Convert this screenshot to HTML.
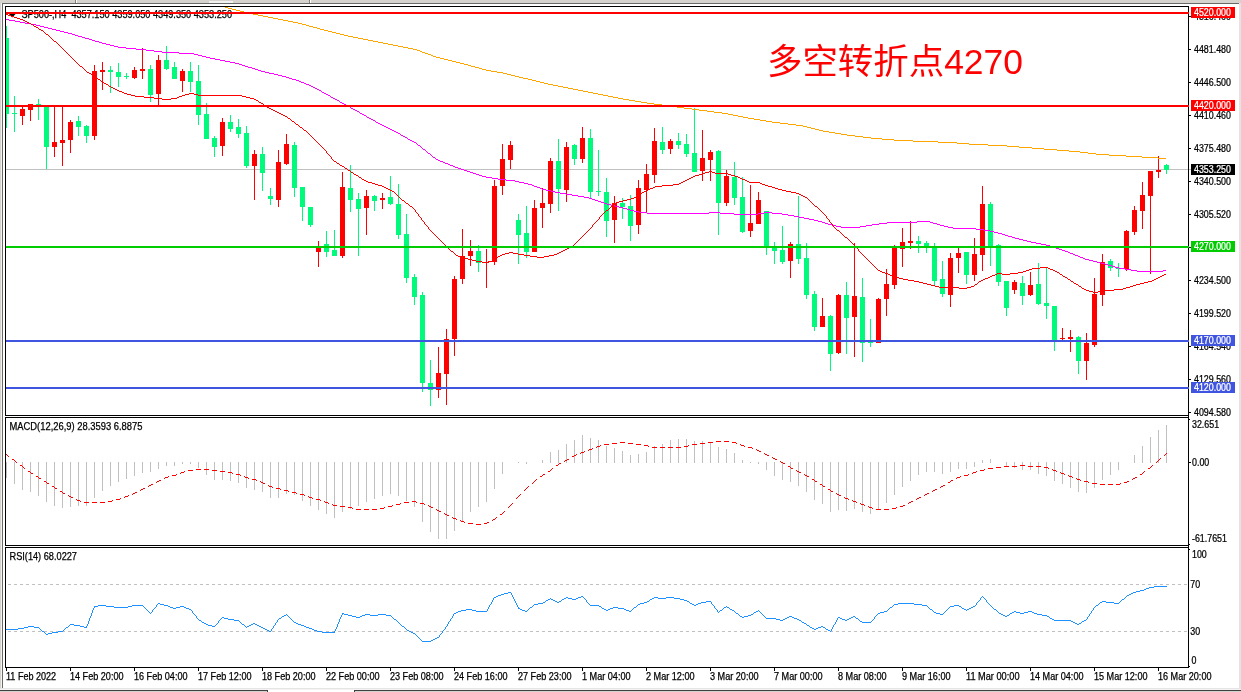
<!DOCTYPE html>
<html><head><meta charset="utf-8"><title>SP500-,H4</title>
<style>
html,body{margin:0;padding:0;background:#fff;}
body{width:1241px;height:692px;overflow:hidden;font-family:"Liberation Sans",sans-serif;}
svg{display:block;will-change:transform;}
text{font-family:"Liberation Sans",sans-serif;font-size:10px;fill:#000;stroke-width:0.25px;}
.c{shape-rendering:crispEdges;}
</style></head><body>
<svg width="1241" height="692" viewBox="0 0 1241 692">
<rect x="0" y="0" width="1241" height="692" fill="#ffffff"/>
<g class="c">
<rect x="0" y="0" width="1241" height="3" fill="#d6d3ce"/>
<rect x="209" y="1" width="24" height="2" fill="#f2f2f2"/>
<rect x="75" y="0" width="1" height="3" fill="#808080"/>
<rect x="76" y="0" width="1" height="3" fill="#ffffff"/>
<rect x="309" y="0" width="1" height="3" fill="#808080"/>
<rect x="310" y="0" width="1" height="3" fill="#ffffff"/>
<rect x="0" y="0" width="1" height="692" fill="#d6d3ce"/>
<rect x="1" y="3" width="1" height="686" fill="#f4f4f4"/>
<rect x="2" y="3" width="1237" height="1" fill="#696969"/>
<rect x="2" y="3" width="1" height="686" fill="#696969"/>
<rect x="1239" y="3" width="2" height="689" fill="#e4e4e4"/>
<rect x="0" y="688" width="1241" height="1" fill="#e4e4e4"/>
<rect x="0" y="689" width="1241" height="1" fill="#f4f4f4"/>
<rect x="0" y="690" width="268" height="1" fill="#404040"/>
<rect x="267" y="690" width="1" height="2" fill="#404040"/>
<rect x="354" y="690" width="887" height="1" fill="#404040"/>
<rect x="354" y="690" width="1" height="2" fill="#404040"/>
<rect x="0" y="691" width="267" height="1" fill="#d6d3ce"/>
<rect x="355" y="691" width="886" height="1" fill="#d6d3ce"/>
</g>
<defs><clipPath id="cm"><rect x="6" y="7" width="1185" height="408"/></clipPath><clipPath id="cc"><rect x="6" y="7" width="1182" height="408"/></clipPath></defs>
<rect x="1189" y="16" width="2" height="1" fill="#000" class="c"/>
<text transform="translate(1194,20) scale(0.887,1)" style="fill:#000;stroke:#000">4516.460</text>
<rect x="1189" y="49" width="2" height="1" fill="#000" class="c"/>
<text transform="translate(1194,53) scale(0.887,1)" style="fill:#000;stroke:#000">4481.480</text>
<rect x="1189" y="82" width="2" height="1" fill="#000" class="c"/>
<text transform="translate(1194,86) scale(0.887,1)" style="fill:#000;stroke:#000">4446.500</text>
<rect x="1189" y="115" width="2" height="1" fill="#000" class="c"/>
<text transform="translate(1194,119) scale(0.887,1)" style="fill:#000;stroke:#000">4410.460</text>
<rect x="1189" y="148" width="2" height="1" fill="#000" class="c"/>
<text transform="translate(1194,152) scale(0.887,1)" style="fill:#000;stroke:#000">4375.480</text>
<rect x="1189" y="181" width="2" height="1" fill="#000" class="c"/>
<text transform="translate(1194,185) scale(0.887,1)" style="fill:#000;stroke:#000">4340.500</text>
<rect x="1189" y="214" width="2" height="1" fill="#000" class="c"/>
<text transform="translate(1194,218) scale(0.887,1)" style="fill:#000;stroke:#000">4305.520</text>
<rect x="1189" y="247" width="2" height="1" fill="#000" class="c"/>
<text transform="translate(1194,251) scale(0.887,1)" style="fill:#000;stroke:#000">4269.480</text>
<rect x="1189" y="280" width="2" height="1" fill="#000" class="c"/>
<text transform="translate(1194,284) scale(0.887,1)" style="fill:#000;stroke:#000">4234.500</text>
<rect x="1189" y="313" width="2" height="1" fill="#000" class="c"/>
<text transform="translate(1194,317) scale(0.887,1)" style="fill:#000;stroke:#000">4199.520</text>
<rect x="1189" y="346" width="2" height="1" fill="#000" class="c"/>
<text transform="translate(1194,350) scale(0.887,1)" style="fill:#000;stroke:#000">4164.540</text>
<rect x="1189" y="379" width="2" height="1" fill="#000" class="c"/>
<text transform="translate(1194,383) scale(0.887,1)" style="fill:#000;stroke:#000">4129.560</text>
<rect x="1189" y="412" width="2" height="1" fill="#000" class="c"/>
<text transform="translate(1194,416) scale(0.887,1)" style="fill:#000;stroke:#000">4094.580</text>
<g clip-path="url(#cm)">
<rect x="6" y="169" width="1185" height="1" fill="#c0c0c0" class="c"/>
</g>
<path d="M8 13 L16.5 13 L12.25 17.5 Z" fill="#000"/>
<text x="21.5" y="18" textLength="210.5" lengthAdjust="spacingAndGlyphs" style="stroke:#000">SP500-,H4&#160; 4357.150 4359.050 4349.350 4353.250</text>
<g clip-path="url(#cm)">
<g class="c">
<rect x="6" y="26" width="1" height="102" fill="#00fa7c"/>
<rect x="4" y="38" width="5" height="76" fill="#00fa7c"/>
<rect x="14" y="96" width="1" height="36" fill="#00fa7c"/>
<rect x="12" y="113" width="5" height="1" fill="#00fa7c"/>
<rect x="22" y="107" width="1" height="18" fill="#ff0000"/>
<rect x="20" y="109" width="5" height="7" fill="#ff0000"/>
<rect x="30" y="104" width="1" height="17" fill="#ff0000"/>
<rect x="28" y="104" width="5" height="6" fill="#ff0000"/>
<rect x="38" y="99" width="1" height="21" fill="#00fa7c"/>
<rect x="36" y="104" width="5" height="1" fill="#00fa7c"/>
<rect x="46" y="105" width="1" height="64" fill="#00fa7c"/>
<rect x="44" y="105" width="5" height="42" fill="#00fa7c"/>
<rect x="54" y="105" width="1" height="52" fill="#ff0000"/>
<rect x="52" y="142" width="5" height="5" fill="#ff0000"/>
<rect x="62" y="105" width="1" height="61" fill="#ff0000"/>
<rect x="60" y="140" width="5" height="3" fill="#ff0000"/>
<rect x="70" y="120" width="1" height="33" fill="#ff0000"/>
<rect x="68" y="122" width="5" height="18" fill="#ff0000"/>
<rect x="78" y="116" width="1" height="20" fill="#00fa7c"/>
<rect x="76" y="121" width="5" height="6" fill="#00fa7c"/>
<rect x="86" y="125" width="1" height="18" fill="#00fa7c"/>
<rect x="84" y="126" width="5" height="10" fill="#00fa7c"/>
<rect x="94" y="65" width="1" height="75" fill="#ff0000"/>
<rect x="92" y="71" width="5" height="65" fill="#ff0000"/>
<rect x="102" y="62" width="1" height="28" fill="#ff0000"/>
<rect x="100" y="70" width="5" height="2" fill="#ff0000"/>
<rect x="110" y="66" width="1" height="27" fill="#00fa7c"/>
<rect x="108" y="70" width="5" height="2" fill="#00fa7c"/>
<rect x="118" y="63" width="1" height="24" fill="#00fa7c"/>
<rect x="116" y="72" width="5" height="5" fill="#00fa7c"/>
<rect x="126" y="73" width="1" height="6" fill="#00fa7c"/>
<rect x="124" y="76" width="5" height="1" fill="#00fa7c"/>
<rect x="134" y="67" width="1" height="12" fill="#ff0000"/>
<rect x="132" y="70" width="5" height="8" fill="#ff0000"/>
<rect x="142" y="48" width="1" height="31" fill="#ff0000"/>
<rect x="140" y="69" width="5" height="2" fill="#ff0000"/>
<rect x="150" y="65" width="1" height="37" fill="#00fa7c"/>
<rect x="148" y="69" width="5" height="26" fill="#00fa7c"/>
<rect x="158" y="55" width="1" height="50" fill="#ff0000"/>
<rect x="156" y="60" width="5" height="34" fill="#ff0000"/>
<rect x="166" y="46" width="1" height="24" fill="#00fa7c"/>
<rect x="164" y="60" width="5" height="9" fill="#00fa7c"/>
<rect x="174" y="62" width="1" height="17" fill="#00fa7c"/>
<rect x="172" y="67" width="5" height="12" fill="#00fa7c"/>
<rect x="182" y="69" width="1" height="23" fill="#ff0000"/>
<rect x="180" y="71" width="5" height="10" fill="#ff0000"/>
<rect x="190" y="62" width="1" height="30" fill="#00fa7c"/>
<rect x="188" y="71" width="5" height="11" fill="#00fa7c"/>
<rect x="198" y="65" width="1" height="60" fill="#00fa7c"/>
<rect x="196" y="81" width="5" height="34" fill="#00fa7c"/>
<rect x="206" y="103" width="1" height="36" fill="#00fa7c"/>
<rect x="204" y="114" width="5" height="25" fill="#00fa7c"/>
<rect x="214" y="136" width="1" height="21" fill="#00fa7c"/>
<rect x="212" y="138" width="5" height="9" fill="#00fa7c"/>
<rect x="222" y="118" width="1" height="38" fill="#ff0000"/>
<rect x="220" y="122" width="5" height="24" fill="#ff0000"/>
<rect x="230" y="115" width="1" height="17" fill="#00fa7c"/>
<rect x="228" y="122" width="5" height="7" fill="#00fa7c"/>
<rect x="238" y="119" width="1" height="19" fill="#00fa7c"/>
<rect x="236" y="127" width="5" height="7" fill="#00fa7c"/>
<rect x="246" y="126" width="1" height="42" fill="#00fa7c"/>
<rect x="244" y="133" width="5" height="33" fill="#00fa7c"/>
<rect x="254" y="150" width="1" height="50" fill="#ff0000"/>
<rect x="252" y="154" width="5" height="12" fill="#ff0000"/>
<rect x="262" y="147" width="1" height="44" fill="#00fa7c"/>
<rect x="260" y="154" width="5" height="19" fill="#00fa7c"/>
<rect x="270" y="188" width="1" height="17" fill="#00fa7c"/>
<rect x="268" y="196" width="5" height="3" fill="#00fa7c"/>
<rect x="278" y="150" width="1" height="57" fill="#ff0000"/>
<rect x="276" y="162" width="5" height="38" fill="#ff0000"/>
<rect x="286" y="134" width="1" height="31" fill="#ff0000"/>
<rect x="284" y="144" width="5" height="20" fill="#ff0000"/>
<rect x="294" y="142" width="1" height="55" fill="#00fa7c"/>
<rect x="292" y="145" width="5" height="43" fill="#00fa7c"/>
<rect x="302" y="187" width="1" height="34" fill="#00fa7c"/>
<rect x="300" y="187" width="5" height="20" fill="#00fa7c"/>
<rect x="310" y="207" width="1" height="20" fill="#00fa7c"/>
<rect x="308" y="207" width="5" height="18" fill="#00fa7c"/>
<rect x="318" y="241" width="1" height="26" fill="#ff0000"/>
<rect x="316" y="246" width="5" height="6" fill="#ff0000"/>
<rect x="326" y="231" width="1" height="26" fill="#00fa7c"/>
<rect x="324" y="244" width="5" height="8" fill="#00fa7c"/>
<rect x="334" y="230" width="1" height="26" fill="#00fa7c"/>
<rect x="332" y="250" width="5" height="6" fill="#00fa7c"/>
<rect x="342" y="172" width="1" height="86" fill="#ff0000"/>
<rect x="340" y="187" width="5" height="69" fill="#ff0000"/>
<rect x="350" y="165" width="1" height="47" fill="#00fa7c"/>
<rect x="348" y="188" width="5" height="12" fill="#00fa7c"/>
<rect x="358" y="193" width="1" height="63" fill="#00fa7c"/>
<rect x="356" y="199" width="5" height="10" fill="#00fa7c"/>
<rect x="366" y="190" width="1" height="45" fill="#ff0000"/>
<rect x="364" y="196" width="5" height="12" fill="#ff0000"/>
<rect x="374" y="195" width="1" height="16" fill="#00fa7c"/>
<rect x="372" y="196" width="5" height="5" fill="#00fa7c"/>
<rect x="382" y="193" width="1" height="16" fill="#ff0000"/>
<rect x="380" y="198" width="5" height="2" fill="#ff0000"/>
<rect x="390" y="176" width="1" height="29" fill="#00fa7c"/>
<rect x="388" y="197" width="5" height="7" fill="#00fa7c"/>
<rect x="398" y="184" width="1" height="55" fill="#00fa7c"/>
<rect x="396" y="204" width="5" height="31" fill="#00fa7c"/>
<rect x="406" y="214" width="1" height="69" fill="#00fa7c"/>
<rect x="404" y="234" width="5" height="44" fill="#00fa7c"/>
<rect x="414" y="274" width="1" height="31" fill="#00fa7c"/>
<rect x="412" y="277" width="5" height="20" fill="#00fa7c"/>
<rect x="422" y="292" width="1" height="100" fill="#00fa7c"/>
<rect x="420" y="295" width="5" height="88" fill="#00fa7c"/>
<rect x="430" y="360" width="1" height="46" fill="#00fa7c"/>
<rect x="428" y="383" width="5" height="7" fill="#00fa7c"/>
<rect x="438" y="347" width="1" height="51" fill="#ff0000"/>
<rect x="436" y="373" width="5" height="17" fill="#ff0000"/>
<rect x="446" y="329" width="1" height="76" fill="#ff0000"/>
<rect x="444" y="339" width="5" height="35" fill="#ff0000"/>
<rect x="454" y="276" width="1" height="80" fill="#ff0000"/>
<rect x="452" y="279" width="5" height="60" fill="#ff0000"/>
<rect x="462" y="229" width="1" height="55" fill="#ff0000"/>
<rect x="460" y="256" width="5" height="23" fill="#ff0000"/>
<rect x="470" y="240" width="1" height="26" fill="#ff0000"/>
<rect x="468" y="251" width="5" height="5" fill="#ff0000"/>
<rect x="478" y="245" width="1" height="27" fill="#00fa7c"/>
<rect x="476" y="251" width="5" height="12" fill="#00fa7c"/>
<rect x="486" y="249" width="1" height="39" fill="#ff0000"/>
<rect x="484" y="262" width="5" height="1" fill="#ff0000"/>
<rect x="494" y="180" width="1" height="85" fill="#ff0000"/>
<rect x="492" y="186" width="5" height="76" fill="#ff0000"/>
<rect x="502" y="144" width="1" height="51" fill="#ff0000"/>
<rect x="500" y="159" width="5" height="27" fill="#ff0000"/>
<rect x="510" y="141" width="1" height="28" fill="#ff0000"/>
<rect x="508" y="145" width="5" height="15" fill="#ff0000"/>
<rect x="518" y="214" width="1" height="50" fill="#00fa7c"/>
<rect x="516" y="220" width="5" height="15" fill="#00fa7c"/>
<rect x="526" y="206" width="1" height="52" fill="#00fa7c"/>
<rect x="524" y="233" width="5" height="19" fill="#00fa7c"/>
<rect x="534" y="200" width="1" height="52" fill="#ff0000"/>
<rect x="532" y="208" width="5" height="44" fill="#ff0000"/>
<rect x="542" y="188" width="1" height="40" fill="#ff0000"/>
<rect x="540" y="203" width="5" height="5" fill="#ff0000"/>
<rect x="550" y="158" width="1" height="55" fill="#ff0000"/>
<rect x="548" y="161" width="5" height="43" fill="#ff0000"/>
<rect x="558" y="139" width="1" height="72" fill="#00fa7c"/>
<rect x="556" y="161" width="5" height="28" fill="#00fa7c"/>
<rect x="566" y="142" width="1" height="60" fill="#ff0000"/>
<rect x="564" y="147" width="5" height="43" fill="#ff0000"/>
<rect x="574" y="144" width="1" height="21" fill="#00fa7c"/>
<rect x="572" y="145" width="5" height="14" fill="#00fa7c"/>
<rect x="582" y="127" width="1" height="36" fill="#ff0000"/>
<rect x="580" y="138" width="5" height="21" fill="#ff0000"/>
<rect x="590" y="129" width="1" height="70" fill="#00fa7c"/>
<rect x="588" y="138" width="5" height="54" fill="#00fa7c"/>
<rect x="598" y="150" width="1" height="46" fill="#00fa7c"/>
<rect x="596" y="191" width="5" height="1" fill="#00fa7c"/>
<rect x="606" y="178" width="1" height="59" fill="#00fa7c"/>
<rect x="604" y="192" width="5" height="29" fill="#00fa7c"/>
<rect x="614" y="196" width="1" height="47" fill="#ff0000"/>
<rect x="612" y="203" width="5" height="17" fill="#ff0000"/>
<rect x="622" y="198" width="1" height="21" fill="#00fa7c"/>
<rect x="620" y="203" width="5" height="4" fill="#00fa7c"/>
<rect x="630" y="195" width="1" height="46" fill="#00fa7c"/>
<rect x="628" y="206" width="5" height="20" fill="#00fa7c"/>
<rect x="638" y="180" width="1" height="54" fill="#ff0000"/>
<rect x="636" y="188" width="5" height="37" fill="#ff0000"/>
<rect x="646" y="164" width="1" height="49" fill="#ff0000"/>
<rect x="644" y="174" width="5" height="16" fill="#ff0000"/>
<rect x="654" y="128" width="1" height="55" fill="#ff0000"/>
<rect x="652" y="141" width="5" height="34" fill="#ff0000"/>
<rect x="662" y="127" width="1" height="27" fill="#00fa7c"/>
<rect x="660" y="142" width="5" height="8" fill="#00fa7c"/>
<rect x="670" y="139" width="1" height="15" fill="#ff0000"/>
<rect x="668" y="141" width="5" height="8" fill="#ff0000"/>
<rect x="678" y="133" width="1" height="16" fill="#00fa7c"/>
<rect x="676" y="141" width="5" height="4" fill="#00fa7c"/>
<rect x="686" y="134" width="1" height="23" fill="#00fa7c"/>
<rect x="684" y="144" width="5" height="10" fill="#00fa7c"/>
<rect x="694" y="108" width="1" height="64" fill="#00fa7c"/>
<rect x="692" y="153" width="5" height="19" fill="#00fa7c"/>
<rect x="702" y="130" width="1" height="51" fill="#ff0000"/>
<rect x="700" y="158" width="5" height="13" fill="#ff0000"/>
<rect x="710" y="150" width="1" height="31" fill="#ff0000"/>
<rect x="708" y="152" width="5" height="8" fill="#ff0000"/>
<rect x="718" y="150" width="1" height="85" fill="#00fa7c"/>
<rect x="716" y="151" width="5" height="52" fill="#00fa7c"/>
<rect x="726" y="170" width="1" height="36" fill="#ff0000"/>
<rect x="724" y="176" width="5" height="27" fill="#ff0000"/>
<rect x="734" y="162" width="1" height="43" fill="#00fa7c"/>
<rect x="732" y="177" width="5" height="21" fill="#00fa7c"/>
<rect x="742" y="177" width="1" height="56" fill="#00fa7c"/>
<rect x="740" y="197" width="5" height="35" fill="#00fa7c"/>
<rect x="750" y="185" width="1" height="52" fill="#ff0000"/>
<rect x="748" y="223" width="5" height="8" fill="#ff0000"/>
<rect x="758" y="192" width="1" height="32" fill="#ff0000"/>
<rect x="756" y="200" width="5" height="24" fill="#ff0000"/>
<rect x="766" y="211" width="1" height="44" fill="#00fa7c"/>
<rect x="764" y="211" width="5" height="37" fill="#00fa7c"/>
<rect x="774" y="242" width="1" height="22" fill="#00fa7c"/>
<rect x="772" y="248" width="5" height="3" fill="#00fa7c"/>
<rect x="782" y="226" width="1" height="38" fill="#00fa7c"/>
<rect x="780" y="250" width="5" height="12" fill="#00fa7c"/>
<rect x="790" y="242" width="1" height="36" fill="#ff0000"/>
<rect x="788" y="244" width="5" height="17" fill="#ff0000"/>
<rect x="798" y="196" width="1" height="68" fill="#00fa7c"/>
<rect x="796" y="244" width="5" height="15" fill="#00fa7c"/>
<rect x="806" y="243" width="1" height="56" fill="#00fa7c"/>
<rect x="804" y="258" width="5" height="37" fill="#00fa7c"/>
<rect x="814" y="291" width="1" height="40" fill="#00fa7c"/>
<rect x="812" y="294" width="5" height="33" fill="#00fa7c"/>
<rect x="822" y="298" width="1" height="29" fill="#ff0000"/>
<rect x="820" y="316" width="5" height="11" fill="#ff0000"/>
<rect x="830" y="315" width="1" height="56" fill="#00fa7c"/>
<rect x="828" y="316" width="5" height="38" fill="#00fa7c"/>
<rect x="838" y="294" width="1" height="60" fill="#ff0000"/>
<rect x="836" y="295" width="5" height="58" fill="#ff0000"/>
<rect x="846" y="282" width="1" height="72" fill="#00fa7c"/>
<rect x="844" y="295" width="5" height="23" fill="#00fa7c"/>
<rect x="854" y="243" width="1" height="114" fill="#ff0000"/>
<rect x="852" y="296" width="5" height="21" fill="#ff0000"/>
<rect x="862" y="278" width="1" height="84" fill="#00fa7c"/>
<rect x="860" y="297" width="5" height="46" fill="#00fa7c"/>
<rect x="870" y="319" width="1" height="28" fill="#00fa7c"/>
<rect x="868" y="342" width="5" height="1" fill="#00fa7c"/>
<rect x="878" y="298" width="1" height="45" fill="#ff0000"/>
<rect x="876" y="299" width="5" height="44" fill="#ff0000"/>
<rect x="886" y="269" width="1" height="47" fill="#ff0000"/>
<rect x="884" y="284" width="5" height="15" fill="#ff0000"/>
<rect x="894" y="245" width="1" height="44" fill="#ff0000"/>
<rect x="892" y="247" width="5" height="38" fill="#ff0000"/>
<rect x="902" y="228" width="1" height="39" fill="#ff0000"/>
<rect x="900" y="242" width="5" height="7" fill="#ff0000"/>
<rect x="910" y="221" width="1" height="28" fill="#ff0000"/>
<rect x="908" y="241" width="5" height="2" fill="#ff0000"/>
<rect x="918" y="236" width="1" height="17" fill="#00fa7c"/>
<rect x="916" y="241" width="5" height="3" fill="#00fa7c"/>
<rect x="926" y="241" width="1" height="12" fill="#00fa7c"/>
<rect x="924" y="243" width="5" height="4" fill="#00fa7c"/>
<rect x="934" y="243" width="1" height="42" fill="#00fa7c"/>
<rect x="932" y="247" width="5" height="34" fill="#00fa7c"/>
<rect x="942" y="261" width="1" height="36" fill="#00fa7c"/>
<rect x="940" y="279" width="5" height="15" fill="#00fa7c"/>
<rect x="950" y="253" width="1" height="54" fill="#ff0000"/>
<rect x="948" y="258" width="5" height="37" fill="#ff0000"/>
<rect x="958" y="248" width="1" height="25" fill="#ff0000"/>
<rect x="956" y="253" width="5" height="5" fill="#ff0000"/>
<rect x="966" y="252" width="1" height="32" fill="#00fa7c"/>
<rect x="964" y="252" width="5" height="23" fill="#00fa7c"/>
<rect x="974" y="238" width="1" height="43" fill="#ff0000"/>
<rect x="972" y="254" width="5" height="21" fill="#ff0000"/>
<rect x="982" y="186" width="1" height="85" fill="#ff0000"/>
<rect x="980" y="204" width="5" height="51" fill="#ff0000"/>
<rect x="990" y="202" width="1" height="64" fill="#00fa7c"/>
<rect x="988" y="204" width="5" height="43" fill="#00fa7c"/>
<rect x="998" y="244" width="1" height="42" fill="#00fa7c"/>
<rect x="996" y="245" width="5" height="37" fill="#00fa7c"/>
<rect x="1006" y="281" width="1" height="35" fill="#00fa7c"/>
<rect x="1004" y="281" width="5" height="27" fill="#00fa7c"/>
<rect x="1014" y="280" width="1" height="14" fill="#ff0000"/>
<rect x="1012" y="282" width="5" height="8" fill="#ff0000"/>
<rect x="1022" y="276" width="1" height="29" fill="#00fa7c"/>
<rect x="1020" y="283" width="5" height="13" fill="#00fa7c"/>
<rect x="1030" y="272" width="1" height="24" fill="#ff0000"/>
<rect x="1028" y="285" width="5" height="10" fill="#ff0000"/>
<rect x="1038" y="263" width="1" height="42" fill="#00fa7c"/>
<rect x="1036" y="284" width="5" height="20" fill="#00fa7c"/>
<rect x="1046" y="268" width="1" height="51" fill="#00fa7c"/>
<rect x="1044" y="303" width="5" height="3" fill="#00fa7c"/>
<rect x="1054" y="306" width="1" height="45" fill="#00fa7c"/>
<rect x="1052" y="306" width="5" height="34" fill="#00fa7c"/>
<rect x="1062" y="328" width="1" height="12" fill="#ff0000"/>
<rect x="1060" y="338" width="5" height="1" fill="#ff0000"/>
<rect x="1070" y="330" width="1" height="22" fill="#ff0000"/>
<rect x="1068" y="337" width="5" height="2" fill="#ff0000"/>
<rect x="1078" y="336" width="1" height="38" fill="#00fa7c"/>
<rect x="1076" y="337" width="5" height="24" fill="#00fa7c"/>
<rect x="1086" y="333" width="1" height="47" fill="#ff0000"/>
<rect x="1084" y="343" width="5" height="18" fill="#ff0000"/>
<rect x="1094" y="278" width="1" height="69" fill="#ff0000"/>
<rect x="1092" y="294" width="5" height="51" fill="#ff0000"/>
<rect x="1102" y="254" width="1" height="52" fill="#ff0000"/>
<rect x="1100" y="262" width="5" height="33" fill="#ff0000"/>
<rect x="1110" y="259" width="1" height="12" fill="#00fa7c"/>
<rect x="1108" y="261" width="5" height="7" fill="#00fa7c"/>
<rect x="1118" y="263" width="1" height="14" fill="#00fa7c"/>
<rect x="1116" y="268" width="5" height="1" fill="#00fa7c"/>
<rect x="1126" y="230" width="1" height="41" fill="#ff0000"/>
<rect x="1124" y="231" width="5" height="38" fill="#ff0000"/>
<rect x="1134" y="206" width="1" height="29" fill="#ff0000"/>
<rect x="1132" y="210" width="5" height="22" fill="#ff0000"/>
<rect x="1142" y="182" width="1" height="47" fill="#ff0000"/>
<rect x="1140" y="195" width="5" height="16" fill="#ff0000"/>
<rect x="1150" y="171" width="1" height="103" fill="#ff0000"/>
<rect x="1148" y="171" width="5" height="25" fill="#ff0000"/>
<rect x="1158" y="156" width="1" height="22" fill="#ff0000"/>
<rect x="1156" y="170" width="5" height="2" fill="#ff0000"/>
<rect x="1166" y="164" width="1" height="10" fill="#00fa7c"/>
<rect x="1164" y="165" width="5" height="5" fill="#00fa7c"/>
</g>
<path class="c" fill="none" stroke="#ffa500" stroke-width="1" d="M225 7.5h3M228 8.5h4M232 9.5h4M236 10.5h4M240 11.5h4M244 12.5h4M248 13.5h5M253 14.5h5M258 15.5h5M263 16.5h5M268 17.5h5M273 18.5h5M278 19.5h5M283 20.5h5M288 21.5h5M293 22.5h5M298 23.5h4M302 24.5h4M306 25.5h3M309 26.5h4M313 27.5h4M317 28.5h3M320 29.5h4M324 30.5h4M328 31.5h4M332 32.5h4M336 33.5h4M340 34.5h4M344 35.5h4M348 36.5h5M353 37.5h5M358 38.5h5M363 39.5h5M368 40.5h5M373 41.5h5M378 42.5h5M383 43.5h5M388 44.5h5M393 45.5h5M398 46.5h5M403 47.5h5M408 48.5h5M413 49.5h4M417 50.5h3M420 51.5h2M422 52.5h3M425 53.5h3M428 54.5h3M431 55.5h2M433 56.5h3M436 57.5h4M440 58.5h4M444 59.5h4M448 60.5h4M452 61.5h4M456 62.5h4M460 63.5h4M464 64.5h4M468 65.5h3M471 66.5h4M475 67.5h4M479 68.5h3M482 69.5h4M486 70.5h5M491 71.5h6M497 72.5h6M503 73.5h4M507 74.5h4M511 75.5h4M515 76.5h4M519 77.5h4M523 78.5h5M528 79.5h4M532 80.5h4M536 81.5h4M540 82.5h4M544 83.5h4M548 84.5h5M553 85.5h5M558 86.5h5M563 87.5h5M568 88.5h5M573 89.5h5M578 90.5h5M583 91.5h5M588 92.5h5M593 93.5h5M598 94.5h5M603 95.5h5M608 96.5h5M613 97.5h5M618 98.5h5M623 99.5h6M629 100.5h6M635 101.5h6M641 102.5h6M647 103.5h7M654 104.5h8M662 105.5h7M669 106.5h8M677 107.5h7M684 108.5h8M692 109.5h7M699 110.5h8M707 111.5h7M714 112.5h8M722 113.5h6M728 114.5h5M733 115.5h5M738 116.5h5M743 117.5h5M748 118.5h6M754 119.5h6M760 120.5h6M766 121.5h6M772 122.5h8M780 123.5h8M788 124.5h8M796 125.5h7M803 126.5h4M807 127.5h4M811 128.5h4M815 129.5h4M819 130.5h4M823 131.5h6M829 132.5h6M835 133.5h6M841 134.5h6M847 135.5h8M855 136.5h8M863 137.5h8M871 138.5h11M882 139.5h12M894 140.5h19M913 141.5h25M938 142.5h19M957 143.5h12M969 144.5h19M988 145.5h19M1007 146.5h12M1019 147.5h13M1032 148.5h12M1044 149.5h13M1057 150.5h12M1069 151.5h11M1080 152.5h8M1088 153.5h8M1096 154.5h13M1109 155.5h17M1126 156.5h16M1142 157.5h16M1158 158.5h8"/>
<path class="c" fill="none" stroke="#ff00ff" stroke-width="1" d="M6 19.5h3M9 20.5h6M15 21.5h5M20 22.5h5M25 23.5h6M31 24.5h5M36 25.5h4M40 26.5h4M44 27.5h4M48 28.5h4M52 29.5h4M56 30.5h4M60 31.5h4M64 32.5h4M68 33.5h4M72 34.5h3M75 35.5h3M78 36.5h4M82 37.5h3M85 38.5h4M89 39.5h3M92 40.5h3M95 41.5h4M99 42.5h3M102 43.5h4M106 44.5h4M110 45.5h4M114 46.5h4M118 47.5h8M126 48.5h10M136 49.5h10M146 50.5h8M154 51.5h8M162 52.5h17M179 53.5h15M194 54.5h4M198 55.5h4M202 56.5h4M206 57.5h4M210 58.5h5M215 59.5h5M220 60.5h5M225 61.5h5M230 62.5h5M235 63.5h4M239 64.5h3M242 65.5h3M245 66.5h3M248 67.5h4M252 68.5h3M255 69.5h3M258 70.5h3M261 71.5h4M265 72.5h4M269 73.5h5M274 74.5h4M278 75.5h4M282 76.5h4M286 77.5h3M289 78.5h3M292 79.5h4M296 80.5h3M299 81.5h2M301 82.5h3M304 83.5h2M306 84.5h3M309 85.5h2M311 86.5h2M313 87.5h2M315 88.5h2M317 89.5h2M319 90.5h2M322 92.5h2M324 93.5h2M326 94.5h2M328 95.5h2M331 97.5h2M333 98.5h2M335 99.5h2M337 100.5h2M340 102.5h2M342 103.5h2M344 104.5h2M346 105.5h2M348 106.5h2M351 108.5h2M353 109.5h2M355 110.5h2M357 111.5h2M360 113.5h2M362 114.5h2M364 115.5h2M367 117.5h2M369 118.5h2M371 119.5h2M373 120.5h2M376 122.5h2M378 123.5h2M380 124.5h2M382 125.5h2M384 126.5h2M386 127.5h2M388 128.5h2M390 129.5h2M392 130.5h2M394 131.5h2M396 132.5h2M398 133.5h2M401 135.5h2M403 136.5h2M405 137.5h2M408 139.5h2M410 140.5h2M412 141.5h2M414 142.5h2M418 145.5h2M423 149.5h2M428 153.5h2M433 157.5h2M436 159.5h2M438 160.5h2M440 161.5h3M443 162.5h2M445 163.5h3M448 164.5h2M450 165.5h3M453 166.5h2M455 167.5h3M458 168.5h3M461 169.5h3M464 170.5h3M467 171.5h3M470 172.5h3M473 173.5h3M476 174.5h3M479 175.5h3M482 176.5h4M486 177.5h6M492 178.5h6M498 179.5h8M506 180.5h9M515 181.5h4M519 182.5h5M524 183.5h4M528 184.5h4M532 185.5h2M534 186.5h3M537 187.5h3M540 188.5h2M542 189.5h4M546 190.5h5M551 191.5h4M555 192.5h5M560 193.5h6M566 194.5h6M572 195.5h6M578 196.5h6M584 197.5h5M589 198.5h3M592 199.5h3M595 200.5h3M598 201.5h3M601 202.5h3M604 203.5h3M607 204.5h4M611 205.5h4M615 206.5h4M619 207.5h4M623 208.5h4M627 209.5h3M630 210.5h4M634 211.5h5M639 212.5h8M709 212.5h11M764 212.5h8M647 213.5h62M720 213.5h14M758 213.5h6M772 213.5h10M734 214.5h24M782 214.5h6M788 215.5h6M794 216.5h5M799 217.5h5M804 218.5h5M809 219.5h5M814 220.5h4M818 221.5h4M917 221.5h13M822 222.5h3M887 222.5h30M930 222.5h3M825 223.5h3M879 223.5h8M933 223.5h4M828 224.5h4M872 224.5h7M937 224.5h3M832 225.5h4M866 225.5h6M940 225.5h4M836 226.5h5M860 226.5h6M944 226.5h4M841 227.5h19M948 227.5h5M953 228.5h23M976 229.5h8M984 230.5h6M990 231.5h4M994 232.5h4M998 233.5h4M1002 234.5h3M1005 235.5h3M1008 236.5h4M1012 237.5h3M1015 238.5h4M1019 239.5h4M1023 240.5h4M1027 241.5h4M1031 242.5h5M1036 243.5h5M1041 244.5h5M1046 245.5h4M1050 246.5h3M1053 247.5h3M1056 248.5h3M1059 249.5h3M1062 250.5h3M1065 251.5h3M1068 252.5h2M1070 253.5h3M1073 254.5h2M1075 255.5h3M1078 256.5h2M1080 257.5h3M1083 258.5h2M1085 259.5h4M1089 260.5h4M1093 261.5h4M1097 262.5h4M1101 263.5h4M1105 264.5h3M1108 265.5h4M1112 266.5h3M1115 267.5h4M1119 268.5h6M1125 269.5h6M1131 270.5h6M1163 270.5h3M1137 271.5h26M321.5 91v1M330.5 96v1M339.5 101v1M350.5 107v1M359.5 112v1M366.5 116v1M375.5 121v1M400.5 134v1M407.5 138v1M416.5 143v1M417.5 144v1M420.5 146v1M421.5 147v1M422.5 148v1M425.5 150v1M426.5 151v1M427.5 152v1M430.5 154v1M431.5 155v1M432.5 156v1M435.5 158v1"/>
<path class="c" fill="none" stroke="#ff0000" stroke-width="1" d="M6 14.5h2M8 15.5h3M11 16.5h3M14 17.5h3M17 18.5h3M20 19.5h3M23 20.5h2M25 21.5h2M27 22.5h2M29 23.5h2M31 24.5h2M34 26.5h2M36 27.5h2M39 29.5h2M41 30.5h2M46 34.5h2M54 41.5h2M80 66.5h2M87 72.5h2M89 73.5h2M91 74.5h2M94 76.5h2M98 79.5h2M101 81.5h2M104 83.5h2M106 84.5h2M109 86.5h2M111 87.5h2M113 88.5h2M115 89.5h2M117 90.5h2M119 91.5h3M122 92.5h2M124 93.5h3M189 93.5h5M127 94.5h4M185 94.5h4M194 94.5h4M131 95.5h4M182 95.5h3M198 95.5h44M135 96.5h9M179 96.5h3M242 96.5h4M144 97.5h10M177 97.5h2M246 97.5h4M154 98.5h8M171 98.5h6M250 98.5h4M162 99.5h9M254 99.5h2M256 100.5h2M259 102.5h2M261 103.5h2M264 105.5h2M267 107.5h2M269 108.5h2M271 109.5h2M273 110.5h2M275 111.5h2M277 112.5h2M279 113.5h2M281 114.5h2M283 115.5h2M285 116.5h2M288 118.5h2M292 121.5h2M296 124.5h2M300 127.5h2M304 130.5h2M334 161.5h2M337 163.5h2M340 165.5h2M342 166.5h2M345 168.5h2M348 170.5h2M709 171.5h3M351 172.5h2M705 172.5h4M712 172.5h3M702 173.5h3M715 173.5h13M354 174.5h2M699 174.5h3M728 174.5h3M356 175.5h2M695 175.5h4M731 175.5h4M693 176.5h2M735 176.5h3M359 177.5h2M691 177.5h2M738 177.5h2M689 178.5h2M740 178.5h2M362 179.5h2M687 179.5h2M742 179.5h3M364 180.5h2M685 180.5h2M745 180.5h2M366 181.5h2M683 181.5h2M747 181.5h2M368 182.5h4M681 182.5h2M749 182.5h11M372 183.5h3M679 183.5h2M760 183.5h2M375 184.5h3M673 184.5h6M762 184.5h3M378 185.5h4M662 185.5h11M765 185.5h3M382 186.5h2M655 186.5h7M768 186.5h4M384 187.5h2M653 187.5h2M772 187.5h3M386 188.5h2M650 188.5h3M775 188.5h3M388 189.5h2M648 189.5h2M778 189.5h4M390 190.5h2M646 190.5h2M782 190.5h4M392 191.5h2M644 191.5h2M786 191.5h5M642 192.5h2M791 192.5h5M796 193.5h3M639 194.5h2M799 194.5h2M801 195.5h2M636 196.5h2M803 196.5h2M634 197.5h2M805 197.5h2M631 198.5h3M627 199.5h4M402 200.5h2M623 200.5h4M619 201.5h4M616 202.5h3M406 203.5h2M612 205.5h2M410 206.5h2M815 206.5h2M606 210.5h2M837 230.5h2M845 237.5h2M571 246.5h2M569 247.5h2M567 248.5h2M565 249.5h2M563 250.5h2M451 251.5h2M561 251.5h2M509 252.5h4M559 252.5h2M505 253.5h4M513 253.5h5M557 253.5h2M502 254.5h3M518 254.5h6M554 254.5h3M456 255.5h2M500 255.5h2M524 255.5h6M549 255.5h5M458 256.5h3M498 256.5h2M530 256.5h7M544 256.5h5M461 257.5h4M537 257.5h7M465 258.5h3M468 259.5h4M494 259.5h2M472 260.5h4M492 260.5h2M476 261.5h6M488 261.5h4M482 262.5h6M1040 267.5h8M1032 268.5h8M1048 268.5h2M1029 269.5h3M1050 269.5h3M878 270.5h2M1026 270.5h3M1053 270.5h2M880 271.5h2M1023 271.5h3M1055 271.5h2M882 272.5h3M1018 272.5h5M1057 272.5h2M885 273.5h3M997 273.5h5M1010 273.5h8M888 274.5h2M995 274.5h2M1002 274.5h8M1060 274.5h2M1164 274.5h2M890 275.5h3M992 275.5h3M1162 275.5h2M893 276.5h3M990 276.5h2M1063 276.5h2M1160 276.5h2M896 277.5h3M988 277.5h2M1065 277.5h2M1158 277.5h2M899 278.5h4M985 278.5h3M1156 278.5h2M903 279.5h5M983 279.5h2M1068 279.5h2M1154 279.5h2M908 280.5h6M981 280.5h2M1152 280.5h2M914 281.5h5M979 281.5h2M1071 281.5h2M1148 281.5h4M919 282.5h4M1144 282.5h4M923 283.5h4M1074 283.5h2M1140 283.5h4M927 284.5h4M975 284.5h2M1076 284.5h2M1136 284.5h4M931 285.5h4M1133 285.5h3M935 286.5h4M971 286.5h3M1079 286.5h2M1130 286.5h3M939 287.5h20M967 287.5h4M1126 287.5h4M959 288.5h8M1082 288.5h2M1123 288.5h3M1084 289.5h2M1114 289.5h9M1086 290.5h3M1104 290.5h10M1089 291.5h4M1098 291.5h6M1093 292.5h5M33.5 25v1M38.5 28v1M43.5 31v1M44.5 32v1M45.5 33v1M48.5 35v1M49.5 36v1M50.5 37v1M51.5 38v1M52.5 39v1M53.5 40v1M56.5 42v1M57.5 43v1M58.5 44v1M59.5 45v1M60.5 46v1M61.5 47v1M62.5 48v1M63.5 49v1M64.5 50v1M65.5 51v1M66.5 52v1M67.5 53v1M68.5 54v1M69.5 55v1M70.5 56v1M71.5 57v1M72.5 58v1M73.5 59v1M74.5 60v1M75.5 61v1M76.5 62v1M77.5 63v1M78.5 64v1M79.5 65v1M82.5 67v1M83.5 68v1M84.5 69v1M85.5 70v1M86.5 71v1M93.5 75v1M96.5 77v1M97.5 78v1M100.5 80v1M103.5 82v1M108.5 85v1M258.5 101v1M263.5 104v1M266.5 106v1M287.5 117v1M290.5 119v1M291.5 120v1M294.5 122v1M295.5 123v1M298.5 125v1M299.5 126v1M302.5 128v1M303.5 129v1M306.5 131v1M307.5 132v1M308.5 133v1M309.5 134v1M310.5 135v1M311.5 136v1M312.5 137v1M313.5 138v1M314.5 139v1M315.5 140v1M316.5 141v1M317.5 142v1M318.5 143v1M319.5 144v1M320.5 145v1M321.5 146v1M322.5 147v1M323.5 148v1M324.5 149v1M325.5 150v1M326.5 151v2M327.5 153v1M328.5 154v1M329.5 155v1M330.5 156v1M331.5 157v2M332.5 159v1M333.5 160v1M336.5 162v1M339.5 164v1M344.5 167v1M347.5 169v1M350.5 171v1M353.5 173v1M358.5 176v1M361.5 178v1M394.5 192v1M395.5 193v1M396.5 194v1M397.5 195v1M398.5 196v1M399.5 197v1M400.5 198v1M401.5 199v1M404.5 201v1M405.5 202v1M408.5 204v1M409.5 205v1M412.5 207v1M413.5 208v1M414.5 209v1M415.5 210v2M416.5 212v1M417.5 213v1M418.5 214v2M419.5 216v1M420.5 217v1M421.5 218v2M422.5 220v1M423.5 221v1M424.5 222v2M425.5 224v1M426.5 225v1M427.5 226v1M428.5 227v2M429.5 229v1M430.5 230v1M431.5 231v1M432.5 232v1M433.5 233v1M434.5 234v1M435.5 235v1M436.5 236v1M437.5 237v1M438.5 238v1M439.5 239v1M440.5 240v1M441.5 241v1M442.5 242v1M443.5 243v1M444.5 244v1M445.5 245v1M446.5 246v1M447.5 247v1M448.5 248v1M449.5 249v1M450.5 250v1M453.5 252v1M454.5 253v1M455.5 254v1M496.5 258v1M497.5 257v1M573.5 245v1M574.5 244v1M575.5 243v1M576.5 242v1M577.5 241v1M578.5 240v1M579.5 239v1M580.5 238v1M581.5 237v1M582.5 236v1M583.5 235v1M584.5 234v1M585.5 233v1M586.5 232v1M587.5 231v1M588.5 230v1M589.5 229v1M590.5 228v1M591.5 227v1M592.5 225v2M593.5 224v1M594.5 223v1M595.5 222v1M596.5 221v1M597.5 220v1M598.5 219v1M599.5 217v2M600.5 216v1M601.5 215v1M602.5 214v1M603.5 213v1M604.5 212v1M605.5 211v1M608.5 209v1M609.5 208v1M610.5 207v1M611.5 206v1M614.5 204v1M615.5 203v1M638.5 195v1M641.5 193v1M807.5 198v1M808.5 199v1M809.5 200v1M810.5 201v1M811.5 202v1M812.5 203v1M813.5 204v1M814.5 205v1M817.5 207v1M818.5 208v1M819.5 209v1M820.5 210v1M821.5 211v1M822.5 212v1M823.5 213v1M824.5 214v1M825.5 215v1M826.5 216v2M827.5 218v1M828.5 219v1M829.5 220v2M830.5 222v1M831.5 223v1M832.5 224v2M833.5 226v1M834.5 227v1M835.5 228v1M836.5 229v1M839.5 231v1M840.5 232v1M841.5 233v1M842.5 234v1M843.5 235v1M844.5 236v1M847.5 238v1M848.5 239v1M849.5 240v1M850.5 241v1M851.5 242v1M852.5 243v1M853.5 244v1M854.5 245v1M855.5 246v1M856.5 247v1M857.5 248v1M858.5 249v2M859.5 251v1M860.5 252v1M861.5 253v1M862.5 254v1M863.5 255v1M864.5 256v1M865.5 257v1M866.5 258v1M867.5 259v1M868.5 260v1M869.5 261v1M870.5 262v1M871.5 263v1M872.5 264v1M873.5 265v1M874.5 266v1M875.5 267v1M876.5 268v1M877.5 269v1M974.5 285v1M977.5 283v1M978.5 282v1M1059.5 273v1M1062.5 275v1M1067.5 278v1M1070.5 280v1M1073.5 282v1M1078.5 285v1M1081.5 287v1"/>
<g class="c">
<rect x="6" y="12" width="1182" height="2" fill="#ff0000"/>
<rect x="6" y="105" width="1182" height="2" fill="#ff0000"/>
<rect x="6" y="246" width="1182" height="2" fill="#00cc00"/>
<rect x="6" y="340" width="1182" height="2" fill="#3f55e0"/>
<rect x="6" y="387" width="1182" height="2" fill="#3f55e0"/>
</g>
</g>
<g fill="#ff0000">
<text x="767" y="73.5" textLength="256" lengthAdjust="spacingAndGlyphs" style="font-family:'Liberation Sans','Noto Sans CJK SC',sans-serif;font-size:35px;fill:#ff0000;stroke:none">多空转折点4270</text>
</g>
<g class="c">
<rect x="5" y="6" width="1184" height="1" fill="#000"/>
<rect x="5" y="6" width="1" height="410" fill="#000"/>
<rect x="5" y="415" width="1184" height="1" fill="#000"/>
<rect x="1188" y="6" width="1" height="662" fill="#000"/>
<rect x="5" y="417" width="1184" height="1" fill="#000"/>
<rect x="5" y="417" width="1" height="129" fill="#000"/>
<rect x="5" y="545" width="1184" height="1" fill="#000"/>
<rect x="5" y="547" width="1184" height="1" fill="#000"/>
<rect x="5" y="547" width="1" height="121" fill="#000"/>
<rect x="5" y="667" width="1184" height="1" fill="#000"/>
</g>
<g class="c">
<rect x="1188" y="12" width="1" height="2" fill="#ff0000"/>
<rect x="1188" y="105" width="1" height="2" fill="#ff0000"/>
<rect x="1188" y="246" width="1" height="2" fill="#00cc00"/>
<rect x="1188" y="340" width="1" height="2" fill="#3f55e0"/>
<rect x="1188" y="387" width="1" height="2" fill="#3f55e0"/>
</g>
<rect x="1191" y="7" width="44" height="11" fill="#ff0000" class="c"/>
<text transform="translate(1194,16) scale(0.887,1)" style="fill:#fff;stroke:#fff">4520.000</text>
<rect x="1191" y="100" width="44" height="11" fill="#ff0000" class="c"/>
<text transform="translate(1194,109) scale(0.887,1)" style="fill:#fff;stroke:#fff">4420.000</text>
<rect x="1191" y="164" width="44" height="11" fill="#000" class="c"/>
<text transform="translate(1194,173) scale(0.887,1)" style="fill:#fff;stroke:#fff">4353.250</text>
<rect x="1191" y="241" width="44" height="11" fill="#00cc00" class="c"/>
<text transform="translate(1194,250) scale(0.887,1)" style="fill:#fff;stroke:#fff">4270.000</text>
<rect x="1191" y="335" width="44" height="11" fill="#3f55e0" class="c"/>
<text transform="translate(1194,344) scale(0.887,1)" style="fill:#fff;stroke:#fff">4170.000</text>
<rect x="1191" y="382" width="44" height="11" fill="#3f55e0" class="c"/>
<text transform="translate(1194,391) scale(0.887,1)" style="fill:#fff;stroke:#fff">4120.000</text>
<g class="c">
<rect x="6" y="462" width="1" height="16" fill="#c0c0c0"/>
<rect x="14" y="462" width="1" height="22" fill="#c0c0c0"/>
<rect x="22" y="462" width="1" height="28" fill="#c0c0c0"/>
<rect x="30" y="462" width="1" height="30" fill="#c0c0c0"/>
<rect x="38" y="462" width="1" height="34" fill="#c0c0c0"/>
<rect x="46" y="462" width="1" height="40" fill="#c0c0c0"/>
<rect x="54" y="462" width="1" height="44" fill="#c0c0c0"/>
<rect x="62" y="462" width="1" height="46" fill="#c0c0c0"/>
<rect x="70" y="462" width="1" height="45" fill="#c0c0c0"/>
<rect x="78" y="462" width="1" height="44" fill="#c0c0c0"/>
<rect x="86" y="462" width="1" height="44" fill="#c0c0c0"/>
<rect x="94" y="462" width="1" height="36" fill="#c0c0c0"/>
<rect x="102" y="462" width="1" height="29" fill="#c0c0c0"/>
<rect x="110" y="462" width="1" height="24" fill="#c0c0c0"/>
<rect x="118" y="462" width="1" height="20" fill="#c0c0c0"/>
<rect x="126" y="462" width="1" height="17" fill="#c0c0c0"/>
<rect x="134" y="462" width="1" height="14" fill="#c0c0c0"/>
<rect x="142" y="462" width="1" height="11" fill="#c0c0c0"/>
<rect x="150" y="462" width="1" height="10" fill="#c0c0c0"/>
<rect x="158" y="462" width="1" height="7" fill="#c0c0c0"/>
<rect x="166" y="462" width="1" height="4" fill="#c0c0c0"/>
<rect x="174" y="462" width="1" height="4" fill="#c0c0c0"/>
<rect x="182" y="462" width="1" height="2" fill="#c0c0c0"/>
<rect x="190" y="462" width="1" height="2" fill="#c0c0c0"/>
<rect x="198" y="462" width="1" height="6" fill="#c0c0c0"/>
<rect x="206" y="462" width="1" height="13" fill="#c0c0c0"/>
<rect x="214" y="462" width="1" height="18" fill="#c0c0c0"/>
<rect x="222" y="462" width="1" height="18" fill="#c0c0c0"/>
<rect x="230" y="462" width="1" height="19" fill="#c0c0c0"/>
<rect x="238" y="462" width="1" height="21" fill="#c0c0c0"/>
<rect x="246" y="462" width="1" height="26" fill="#c0c0c0"/>
<rect x="254" y="462" width="1" height="28" fill="#c0c0c0"/>
<rect x="262" y="462" width="1" height="30" fill="#c0c0c0"/>
<rect x="270" y="462" width="1" height="36" fill="#c0c0c0"/>
<rect x="278" y="462" width="1" height="36" fill="#c0c0c0"/>
<rect x="286" y="462" width="1" height="32" fill="#c0c0c0"/>
<rect x="294" y="462" width="1" height="33" fill="#c0c0c0"/>
<rect x="302" y="462" width="1" height="39" fill="#c0c0c0"/>
<rect x="310" y="462" width="1" height="44" fill="#c0c0c0"/>
<rect x="318" y="462" width="1" height="48" fill="#c0c0c0"/>
<rect x="326" y="462" width="1" height="52" fill="#c0c0c0"/>
<rect x="334" y="462" width="1" height="56" fill="#c0c0c0"/>
<rect x="342" y="462" width="1" height="50" fill="#c0c0c0"/>
<rect x="350" y="462" width="1" height="47" fill="#c0c0c0"/>
<rect x="358" y="462" width="1" height="44" fill="#c0c0c0"/>
<rect x="366" y="462" width="1" height="40" fill="#c0c0c0"/>
<rect x="374" y="462" width="1" height="37" fill="#c0c0c0"/>
<rect x="382" y="462" width="1" height="34" fill="#c0c0c0"/>
<rect x="390" y="462" width="1" height="32" fill="#c0c0c0"/>
<rect x="398" y="462" width="1" height="34" fill="#c0c0c0"/>
<rect x="406" y="462" width="1" height="39" fill="#c0c0c0"/>
<rect x="414" y="462" width="1" height="45" fill="#c0c0c0"/>
<rect x="422" y="462" width="1" height="60" fill="#c0c0c0"/>
<rect x="430" y="462" width="1" height="70" fill="#c0c0c0"/>
<rect x="438" y="462" width="1" height="77" fill="#c0c0c0"/>
<rect x="446" y="462" width="1" height="77" fill="#c0c0c0"/>
<rect x="454" y="462" width="1" height="69" fill="#c0c0c0"/>
<rect x="462" y="462" width="1" height="59" fill="#c0c0c0"/>
<rect x="470" y="462" width="1" height="50" fill="#c0c0c0"/>
<rect x="478" y="462" width="1" height="45" fill="#c0c0c0"/>
<rect x="486" y="462" width="1" height="40" fill="#c0c0c0"/>
<rect x="494" y="462" width="1" height="27" fill="#c0c0c0"/>
<rect x="502" y="462" width="1" height="12" fill="#c0c0c0"/>
<rect x="518" y="462" width="1" height="1" fill="#c0c0c0"/>
<rect x="526" y="462" width="1" height="2" fill="#c0c0c0"/>
<rect x="542" y="460" width="1" height="3" fill="#c0c0c0"/>
<rect x="550" y="452" width="1" height="11" fill="#c0c0c0"/>
<rect x="558" y="450" width="1" height="13" fill="#c0c0c0"/>
<rect x="566" y="444" width="1" height="19" fill="#c0c0c0"/>
<rect x="574" y="440" width="1" height="23" fill="#c0c0c0"/>
<rect x="582" y="435" width="1" height="28" fill="#c0c0c0"/>
<rect x="590" y="438" width="1" height="25" fill="#c0c0c0"/>
<rect x="598" y="440" width="1" height="23" fill="#c0c0c0"/>
<rect x="606" y="446" width="1" height="17" fill="#c0c0c0"/>
<rect x="614" y="448" width="1" height="15" fill="#c0c0c0"/>
<rect x="622" y="451" width="1" height="12" fill="#c0c0c0"/>
<rect x="630" y="455" width="1" height="8" fill="#c0c0c0"/>
<rect x="638" y="454" width="1" height="9" fill="#c0c0c0"/>
<rect x="646" y="452" width="1" height="11" fill="#c0c0c0"/>
<rect x="654" y="446" width="1" height="17" fill="#c0c0c0"/>
<rect x="662" y="444" width="1" height="19" fill="#c0c0c0"/>
<rect x="670" y="440" width="1" height="23" fill="#c0c0c0"/>
<rect x="678" y="439" width="1" height="24" fill="#c0c0c0"/>
<rect x="686" y="439" width="1" height="24" fill="#c0c0c0"/>
<rect x="694" y="441" width="1" height="22" fill="#c0c0c0"/>
<rect x="702" y="441" width="1" height="22" fill="#c0c0c0"/>
<rect x="710" y="442" width="1" height="21" fill="#c0c0c0"/>
<rect x="718" y="447" width="1" height="16" fill="#c0c0c0"/>
<rect x="726" y="449" width="1" height="14" fill="#c0c0c0"/>
<rect x="734" y="453" width="1" height="10" fill="#c0c0c0"/>
<rect x="742" y="460" width="1" height="3" fill="#c0c0c0"/>
<rect x="750" y="462" width="1" height="1" fill="#c0c0c0"/>
<rect x="758" y="462" width="1" height="2" fill="#c0c0c0"/>
<rect x="766" y="462" width="1" height="8" fill="#c0c0c0"/>
<rect x="774" y="462" width="1" height="14" fill="#c0c0c0"/>
<rect x="782" y="462" width="1" height="18" fill="#c0c0c0"/>
<rect x="790" y="462" width="1" height="20" fill="#c0c0c0"/>
<rect x="798" y="462" width="1" height="24" fill="#c0c0c0"/>
<rect x="806" y="462" width="1" height="30" fill="#c0c0c0"/>
<rect x="814" y="462" width="1" height="38" fill="#c0c0c0"/>
<rect x="822" y="462" width="1" height="42" fill="#c0c0c0"/>
<rect x="830" y="462" width="1" height="50" fill="#c0c0c0"/>
<rect x="838" y="462" width="1" height="48" fill="#c0c0c0"/>
<rect x="846" y="462" width="1" height="49" fill="#c0c0c0"/>
<rect x="854" y="462" width="1" height="47" fill="#c0c0c0"/>
<rect x="862" y="462" width="1" height="50" fill="#c0c0c0"/>
<rect x="870" y="462" width="1" height="52" fill="#c0c0c0"/>
<rect x="878" y="462" width="1" height="48" fill="#c0c0c0"/>
<rect x="886" y="462" width="1" height="41" fill="#c0c0c0"/>
<rect x="894" y="462" width="1" height="33" fill="#c0c0c0"/>
<rect x="902" y="462" width="1" height="25" fill="#c0c0c0"/>
<rect x="910" y="462" width="1" height="19" fill="#c0c0c0"/>
<rect x="918" y="462" width="1" height="13" fill="#c0c0c0"/>
<rect x="926" y="462" width="1" height="10" fill="#c0c0c0"/>
<rect x="934" y="462" width="1" height="10" fill="#c0c0c0"/>
<rect x="942" y="462" width="1" height="12" fill="#c0c0c0"/>
<rect x="950" y="462" width="1" height="10" fill="#c0c0c0"/>
<rect x="958" y="462" width="1" height="7" fill="#c0c0c0"/>
<rect x="966" y="462" width="1" height="7" fill="#c0c0c0"/>
<rect x="974" y="462" width="1" height="5" fill="#c0c0c0"/>
<rect x="982" y="460" width="1" height="3" fill="#c0c0c0"/>
<rect x="990" y="459" width="1" height="4" fill="#c0c0c0"/>
<rect x="1006" y="462" width="1" height="4" fill="#c0c0c0"/>
<rect x="1014" y="462" width="1" height="6" fill="#c0c0c0"/>
<rect x="1022" y="462" width="1" height="8" fill="#c0c0c0"/>
<rect x="1030" y="462" width="1" height="8" fill="#c0c0c0"/>
<rect x="1038" y="462" width="1" height="12" fill="#c0c0c0"/>
<rect x="1046" y="462" width="1" height="14" fill="#c0c0c0"/>
<rect x="1054" y="462" width="1" height="19" fill="#c0c0c0"/>
<rect x="1062" y="462" width="1" height="22" fill="#c0c0c0"/>
<rect x="1070" y="462" width="1" height="26" fill="#c0c0c0"/>
<rect x="1078" y="462" width="1" height="30" fill="#c0c0c0"/>
<rect x="1086" y="462" width="1" height="31" fill="#c0c0c0"/>
<rect x="1094" y="462" width="1" height="26" fill="#c0c0c0"/>
<rect x="1102" y="462" width="1" height="18" fill="#c0c0c0"/>
<rect x="1110" y="462" width="1" height="13" fill="#c0c0c0"/>
<rect x="1118" y="462" width="1" height="8" fill="#c0c0c0"/>
<rect x="1134" y="455" width="1" height="8" fill="#c0c0c0"/>
<rect x="1142" y="446" width="1" height="17" fill="#c0c0c0"/>
<rect x="1150" y="437" width="1" height="26" fill="#c0c0c0"/>
<rect x="1158" y="430" width="1" height="33" fill="#c0c0c0"/>
<rect x="1166" y="425" width="1" height="38" fill="#c0c0c0"/>
</g>
<path class="c" fill="none" stroke="#ff0000" stroke-width="1" d="M716 441.5h5M724 441.5h5M620 442.5h5M708 442.5h5M732 442.5h4M612 443.5h5M628 443.5h5M700 443.5h5M604 444.5h5M636 444.5h5M692 444.5h5M644 445.5h4M741 445.5h3M597 446.5h3M684 446.5h4M652 447.5h5M660 447.5h5M668 447.5h5M676 447.5h5M748 447.5h4M589 449.5h3M757 450.5h2M759 451.5h2M581 452.5h3M765 454.5h2M574 455.5h2M767 455.5h2M572 456.5h2M773 458.5h2M12 459.5h2M567 459.5h2M775 459.5h2M565 460.5h2M781 462.5h2M559 463.5h2M783 463.5h2M20 465.5h2M556 465.5h2M1020 465.5h5M788 466.5h2M1004 466.5h5M1012 466.5h5M1028 466.5h5M1036 466.5h5M996 467.5h5M1044 467.5h4M791 468.5h2M988 468.5h5M1148 468.5h2M196 469.5h5M204 469.5h5M188 470.5h5M212 470.5h5M980 470.5h4M1053 470.5h3M28 471.5h2M220 471.5h5M548 471.5h2M797 471.5h2M181 472.5h3M228 472.5h4M799 472.5h2M973 472.5h3M31 473.5h2M1061 473.5h3M236 474.5h4M543 474.5h2M1140 474.5h2M172 475.5h4M805 475.5h2M964 475.5h4M36 476.5h2M540 476.5h2M807 476.5h2M1069 476.5h3M165 477.5h3M245 477.5h3M957 477.5h3M1135 477.5h2M39 478.5h2M1133 478.5h2M252 479.5h4M812 479.5h2M1077 479.5h3M159 480.5h2M951 480.5h2M44 481.5h2M157 481.5h2M815 481.5h2M1084 481.5h4M1127 481.5h2M261 482.5h2M948 482.5h2M1124 482.5h3M47 483.5h2M263 483.5h2M1092 483.5h5M151 484.5h2M820 484.5h2M1100 484.5h5M1108 484.5h5M1116 484.5h4M149 485.5h2M943 485.5h2M52 486.5h2M269 486.5h3M823 486.5h2M941 486.5h2M55 488.5h2M143 488.5h2M276 488.5h4M141 489.5h2M828 489.5h2M935 489.5h2M284 490.5h4M933 490.5h2M60 491.5h2M831 491.5h2M135 492.5h2M292 492.5h4M63 493.5h2M133 493.5h2M927 493.5h2M300 494.5h4M837 494.5h2M925 494.5h2M839 495.5h2M69 496.5h2M125 496.5h3M71 497.5h2M309 497.5h3M919 497.5h2M845 498.5h3M917 498.5h2M116 499.5h4M316 499.5h4M77 500.5h3M108 501.5h4M412 501.5h4M853 501.5h3M911 501.5h2M84 502.5h5M92 502.5h5M100 502.5h5M325 502.5h3M404 502.5h5M909 502.5h2M420 503.5h4M396 504.5h4M861 504.5h3M333 505.5h4M903 505.5h2M340 506.5h5M388 506.5h4M429 506.5h2M900 506.5h3M348 507.5h4M431 507.5h2M869 507.5h3M380 508.5h4M892 508.5h4M356 509.5h5M364 509.5h5M372 509.5h5M876 509.5h5M884 509.5h5M437 510.5h2M439 511.5h2M445 514.5h2M500 514.5h2M447 515.5h2M453 518.5h3M493 519.5h2M461 521.5h3M487 522.5h2M468 523.5h5M484 523.5h3M476 524.5h5M6.5 454v1M7.5 455v1M8.5 456v1M14.5 460v1M15.5 461v1M16.5 462v1M22.5 466v1M23.5 467v1M24.5 468v1M30.5 472v1M38.5 477v1M46.5 482v1M54.5 487v1M62.5 492v1M68.5 495v1M76.5 499v1M80.5 501v1M112.5 500v1M120.5 498v1M124.5 497v1M128.5 495v1M132.5 494v1M140.5 490v1M148.5 486v1M156.5 482v1M164.5 478v1M168.5 476v1M176.5 474v1M180.5 473v1M184.5 471v1M232.5 473v1M240.5 475v1M244.5 476v1M248.5 478v1M256.5 480v1M260.5 481v1M268.5 485v1M272.5 487v1M280.5 489v1M288.5 491v1M296.5 493v1M304.5 495v1M308.5 496v1M312.5 498v1M320.5 500v1M324.5 501v1M328.5 503v1M332.5 504v1M352.5 508v1M384.5 507v1M392.5 505v1M400.5 503v1M416.5 502v1M424.5 504v1M428.5 505v1M436.5 509v1M444.5 513v1M452.5 517v1M456.5 519v1M460.5 520v1M464.5 522v1M492.5 520v1M495.5 518v1M496.5 517v1M502.5 513v1M503.5 512v1M504.5 511v1M508.5 507v1M509.5 506v1M510.5 505v1M511.5 504v1M512.5 503v1M516.5 498v1M517.5 497v1M518.5 496v1M519.5 495v1M520.5 494v1M524.5 490v1M525.5 489v1M526.5 488v1M527.5 487v1M528.5 486v1M532.5 483v1M533.5 482v1M534.5 481v1M535.5 480v1M536.5 479v1M542.5 475v1M550.5 470v1M551.5 469v1M552.5 468v1M558.5 464v1M564.5 461v1M576.5 454v1M580.5 453v1M584.5 451v1M588.5 450v1M592.5 448v1M596.5 447v1M600.5 445v1M648.5 446v1M688.5 445v1M736.5 443v1M740.5 444v1M744.5 446v1M752.5 448v1M756.5 449v1M764.5 453v1M772.5 457v1M780.5 461v1M790.5 467v1M796.5 470v1M804.5 474v1M814.5 480v1M822.5 485v1M830.5 490v1M836.5 493v1M844.5 497v1M848.5 499v1M852.5 500v1M856.5 502v1M860.5 503v1M864.5 505v1M868.5 506v1M872.5 508v1M896.5 507v1M908.5 503v1M916.5 499v1M924.5 495v1M932.5 491v1M940.5 487v1M950.5 481v1M956.5 478v1M960.5 476v1M968.5 474v1M972.5 473v1M976.5 471v1M984.5 469v1M1048.5 468v1M1052.5 469v1M1056.5 471v1M1060.5 472v1M1064.5 474v1M1068.5 475v1M1072.5 477v1M1076.5 478v1M1080.5 480v1M1088.5 482v1M1120.5 483v1M1132.5 479v1M1142.5 473v1M1143.5 472v1M1144.5 471v1M1150.5 467v1M1151.5 466v1M1152.5 465v1M1156.5 462v1M1157.5 461v1M1158.5 460v1M1159.5 459v1M1160.5 458v1M1164.5 455v1M1165.5 454v1M1166.5 453v1"/>
<text x="9.5" y="430" textLength="133" lengthAdjust="spacingAndGlyphs" style="fill:#000;stroke:#000">MACD(12,26,9) 28.3593 6.8875</text>
<text transform="translate(1192,428) scale(0.887,1)" style="fill:#000;stroke:#000">32.651</text>
<rect x="1189" y="419" width="1" height="1" fill="#000" class="c"/>
<text transform="translate(1192,466) scale(0.887,1)" style="fill:#000;stroke:#000">0.00</text>
<rect x="1189" y="462" width="2" height="1" fill="#000" class="c"/>
<text transform="translate(1192,542) scale(0.887,1)" style="fill:#000;stroke:#000">-61.7651</text>
<rect x="1189" y="544" width="1" height="1" fill="#000" class="c"/>
<g class="c">
<line x1="8" y1="584.5" x2="1188" y2="584.5" stroke="#c0c0c0" stroke-width="1" stroke-dasharray="3 3"/>
<line x1="8" y1="631.5" x2="1188" y2="631.5" stroke="#c0c0c0" stroke-width="1" stroke-dasharray="3 3"/>
</g>
<path class="c" fill="none" stroke="#1e90ff" stroke-width="1" d="M1154 586.5h13M1149 587.5h5M1146 588.5h3M1144 589.5h2M1140 590.5h4M1136 591.5h4M508 592.5h3M1133 592.5h3M504 593.5h4M1131 593.5h2M501 594.5h3M1129 594.5h2M498 595.5h3M1127 595.5h2M496 596.5h2M581 596.5h2M494 597.5h2M566 597.5h2M578 597.5h3M654 597.5h4M666 597.5h8M564 598.5h2M568 598.5h4M576 598.5h2M652 598.5h2M658 598.5h8M674 598.5h6M548 599.5h2M551 599.5h2M562 599.5h2M572 599.5h4M650 599.5h2M680 599.5h4M1122 599.5h2M546 600.5h2M553 600.5h2M684 600.5h3M555 601.5h2M559 601.5h2M647 601.5h2M687 601.5h2M706 601.5h5M1102 601.5h4M543 602.5h2M557 602.5h2M644 602.5h3M701 602.5h5M1100 602.5h2M1106 602.5h8M158 603.5h2M538 603.5h5M640 603.5h4M690 603.5h2M698 603.5h3M898 603.5h16M1114 603.5h5M160 604.5h4M534 604.5h4M638 604.5h2M692 604.5h2M696 604.5h2M894 604.5h4M914 604.5h8M98 605.5h8M132 605.5h11M164 605.5h4M590 605.5h9M694 605.5h2M922 605.5h5M954 605.5h5M1096 605.5h2M94 606.5h4M106 606.5h8M128 606.5h4M168 606.5h2M180 606.5h4M599 606.5h2M950 606.5h4M959 606.5h2M973 606.5h2M114 607.5h14M170 607.5h3M176 607.5h4M184 607.5h2M530 607.5h2M613 607.5h5M634 607.5h2M724 607.5h2M727 607.5h2M890 607.5h2M971 607.5h2M173 608.5h3M186 608.5h3M518 608.5h2M602 608.5h2M610 608.5h3M618 608.5h6M962 608.5h2M969 608.5h2M189 609.5h2M466 609.5h6M520 609.5h2M604 609.5h2M608 609.5h2M624 609.5h2M730 609.5h2M930 609.5h2M964 609.5h2M967 609.5h2M994 609.5h2M461 610.5h5M472 610.5h4M522 610.5h3M606 610.5h2M626 610.5h3M720 610.5h2M732 610.5h2M458 611.5h3M476 611.5h11M525 611.5h2M629 611.5h2M756 611.5h2M884 611.5h3M1014 611.5h2M1028 611.5h4M456 612.5h2M754 612.5h2M880 612.5h4M934 612.5h2M1012 612.5h2M1016 612.5h4M1024 612.5h4M1032 612.5h2M342 613.5h2M454 613.5h2M736 613.5h2M878 613.5h2M936 613.5h4M999 613.5h2M1010 613.5h2M1020 613.5h4M1034 613.5h3M344 614.5h4M365 614.5h5M378 614.5h8M751 614.5h2M940 614.5h3M1001 614.5h2M1037 614.5h5M284 615.5h2M348 615.5h4M362 615.5h3M370 615.5h8M386 615.5h5M748 615.5h3M1003 615.5h2M1007 615.5h2M1042 615.5h5M282 616.5h2M352 616.5h4M360 616.5h2M740 616.5h2M744 616.5h4M789 616.5h3M853 616.5h2M1005 616.5h2M1047 616.5h2M222 617.5h2M356 617.5h4M742 617.5h2M787 617.5h2M792 617.5h2M838 617.5h2M851 617.5h2M224 618.5h4M279 618.5h2M766 618.5h10M785 618.5h2M794 618.5h3M840 618.5h2M849 618.5h2M856 618.5h2M1050 618.5h2M228 619.5h6M394 619.5h2M776 619.5h4M783 619.5h2M797 619.5h2M842 619.5h3M847 619.5h2M1052 619.5h2M199 620.5h2M234 620.5h5M780 620.5h3M799 620.5h2M845 620.5h2M1054 620.5h17M1084 620.5h2M860 621.5h2M1071 621.5h2M1082 621.5h2M202 622.5h2M294 622.5h2M802 622.5h2M862 622.5h9M1073 622.5h2M204 623.5h2M253 623.5h2M296 623.5h2M804 623.5h2M1075 623.5h2M1079 623.5h2M70 624.5h4M206 624.5h2M242 624.5h2M251 624.5h2M255 624.5h2M298 624.5h3M1077 624.5h2M74 625.5h6M208 625.5h4M249 625.5h2M257 625.5h2M301 625.5h3M807 625.5h2M28 626.5h6M80 626.5h4M212 626.5h3M247 626.5h2M259 626.5h2M304 626.5h2M402 626.5h2M821 626.5h2M24 627.5h4M34 627.5h5M66 627.5h2M84 627.5h3M261 627.5h2M306 627.5h3M810 627.5h2M818 627.5h3M823 627.5h2M18 628.5h6M263 628.5h2M309 628.5h3M812 628.5h2M816 628.5h2M6 629.5h12M265 629.5h2M312 629.5h2M814 629.5h2M826 629.5h2M267 630.5h2M314 630.5h3M407 630.5h2M828 630.5h2M42 631.5h2M58 631.5h5M269 631.5h2M317 631.5h5M409 631.5h2M52 632.5h6M322 632.5h13M411 632.5h2M48 633.5h4M413 633.5h2M46 634.5h2M437 637.5h2M435 638.5h2M433 639.5h2M431 640.5h2M422 641.5h9M39.5 628v1M40.5 629v1M41.5 630v1M44.5 632v1M45.5 633v1M63.5 630v1M64.5 629v1M65.5 628v1M68.5 626v1M69.5 625v1M86.5 626v1M87.5 624v2M88.5 621v3M89.5 618v3M90.5 616v2M91.5 613v3M92.5 610v3M93.5 608v2M94.5 607v1M143.5 606v1M144.5 607v1M145.5 608v1M146.5 609v1M147.5 610v1M148.5 611v1M149.5 612v1M150.5 613v1M151.5 612v1M152.5 610v2M153.5 609v1M154.5 608v1M155.5 607v1M156.5 605v2M157.5 604v1M191.5 610v1M192.5 611v2M193.5 613v1M194.5 614v1M195.5 615v1M196.5 616v2M197.5 618v1M198.5 619v1M201.5 621v1M215.5 625v1M216.5 624v1M217.5 623v1M218.5 621v2M219.5 620v1M220.5 619v1M221.5 618v1M239.5 621v1M240.5 622v1M241.5 623v1M244.5 625v1M245.5 626v1M246.5 627v1M271.5 629v2M272.5 628v1M273.5 626v2M274.5 625v1M275.5 623v2M276.5 622v1M277.5 620v2M278.5 619v1M281.5 617v1M286.5 614v1M287.5 615v1M288.5 616v1M289.5 617v1M290.5 618v1M291.5 619v1M292.5 620v1M293.5 621v1M334.5 631v1M335.5 629v2M336.5 627v2M337.5 624v3M338.5 622v2M339.5 619v3M340.5 617v2M341.5 615v2M342.5 614v1M391.5 616v1M392.5 617v1M393.5 618v1M396.5 620v1M397.5 621v1M398.5 622v1M399.5 623v1M400.5 624v1M401.5 625v1M404.5 627v1M405.5 628v1M406.5 629v1M415.5 634v1M416.5 635v1M417.5 636v1M418.5 637v1M419.5 638v1M420.5 639v1M421.5 640v1M439.5 635v2M440.5 634v1M441.5 633v1M442.5 631v2M443.5 630v1M444.5 629v1M445.5 627v2M446.5 626v1M447.5 624v2M448.5 622v2M449.5 621v1M450.5 619v2M451.5 618v1M452.5 616v2M453.5 614v2M487.5 609v2M488.5 607v2M489.5 605v2M490.5 604v1M491.5 602v2M492.5 600v2M493.5 598v2M511.5 593v2M512.5 595v2M513.5 597v2M514.5 599v2M515.5 601v2M516.5 603v2M517.5 605v2M518.5 607v1M527.5 610v1M528.5 609v1M529.5 608v1M532.5 606v1M533.5 605v1M545.5 601v1M550.5 598v1M561.5 600v1M583.5 597v1M584.5 598v1M585.5 599v1M586.5 600v2M587.5 602v1M588.5 603v1M589.5 604v1M601.5 607v1M631.5 610v1M632.5 609v1M633.5 608v1M636.5 606v1M637.5 605v1M649.5 600v1M689.5 602v1M711.5 602v2M712.5 604v1M713.5 605v1M714.5 606v2M715.5 608v1M716.5 609v1M717.5 610v2M718.5 612v1M719.5 611v1M722.5 609v1M723.5 608v1M726.5 606v1M729.5 608v1M734.5 611v1M735.5 612v1M738.5 614v1M739.5 615v1M753.5 613v1M758.5 610v1M759.5 611v1M760.5 612v1M761.5 613v1M762.5 614v1M763.5 615v1M764.5 616v1M765.5 617v1M801.5 621v1M806.5 624v1M809.5 626v1M825.5 628v1M830.5 631v1M831.5 629v2M832.5 627v2M833.5 625v2M834.5 624v1M835.5 622v2M836.5 620v2M837.5 618v2M855.5 617v1M858.5 619v1M859.5 620v1M871.5 621v1M872.5 620v1M873.5 619v1M874.5 617v2M875.5 616v1M876.5 615v1M877.5 614v1M887.5 610v1M888.5 609v1M889.5 608v1M892.5 606v1M893.5 605v1M927.5 606v1M928.5 607v1M929.5 608v1M932.5 610v1M933.5 611v1M943.5 613v1M944.5 612v1M945.5 611v1M946.5 610v1M947.5 609v1M948.5 608v1M949.5 607v1M961.5 607v1M966.5 610v1M975.5 605v1M976.5 603v2M977.5 602v1M978.5 601v1M979.5 600v1M980.5 598v2M981.5 597v1M982.5 596v1M983.5 597v1M984.5 598v1M985.5 599v1M986.5 600v2M987.5 602v1M988.5 603v1M989.5 604v1M990.5 605v1M991.5 606v1M992.5 607v1M993.5 608v1M996.5 610v1M997.5 611v1M998.5 612v1M1009.5 614v1M1049.5 617v1M1081.5 622v1M1086.5 619v1M1087.5 617v2M1088.5 616v1M1089.5 614v2M1090.5 613v1M1091.5 611v2M1092.5 610v1M1093.5 608v2M1094.5 607v1M1095.5 606v1M1098.5 604v1M1099.5 603v1M1119.5 602v1M1120.5 601v1M1121.5 600v1M1124.5 598v1M1125.5 597v1M1126.5 596v1"/>
<text x="9.5" y="560" textLength="67.5" lengthAdjust="spacingAndGlyphs" style="fill:#000;stroke:#000">RSI(14) 68.0227</text>
<text transform="translate(1192,558) scale(0.887,1)" style="fill:#000;stroke:#000">100</text>
<rect x="1189" y="549" width="1" height="1" fill="#000" class="c"/>
<text transform="translate(1190.3,588) scale(0.887,1)" style="fill:#000;stroke:#000">70</text>
<text transform="translate(1190.3,635) scale(0.887,1)" style="fill:#000;stroke:#000">30</text>
<text transform="translate(1191.6,664) scale(0.887,1)" style="fill:#000;stroke:#000">0</text>
<rect x="1189" y="666" width="1" height="1" fill="#000" class="c"/>
<rect x="6" y="668" width="1" height="3" fill="#000" class="c"/>
<text x="6" y="680" textLength="50.1" lengthAdjust="spacingAndGlyphs" style="fill:#000;stroke:#000">11 Feb 2022</text>
<rect x="70" y="668" width="1" height="3" fill="#000" class="c"/>
<text x="70" y="680" textLength="53.5" lengthAdjust="spacingAndGlyphs" style="fill:#000;stroke:#000">14 Feb 20:00</text>
<rect x="134" y="668" width="1" height="3" fill="#000" class="c"/>
<text x="134" y="680" textLength="53.5" lengthAdjust="spacingAndGlyphs" style="fill:#000;stroke:#000">16 Feb 04:00</text>
<rect x="198" y="668" width="1" height="3" fill="#000" class="c"/>
<text x="198" y="680" textLength="53.5" lengthAdjust="spacingAndGlyphs" style="fill:#000;stroke:#000">17 Feb 12:00</text>
<rect x="262" y="668" width="1" height="3" fill="#000" class="c"/>
<text x="262" y="680" textLength="53.5" lengthAdjust="spacingAndGlyphs" style="fill:#000;stroke:#000">18 Feb 20:00</text>
<rect x="326" y="668" width="1" height="3" fill="#000" class="c"/>
<text x="326" y="680" textLength="53.5" lengthAdjust="spacingAndGlyphs" style="fill:#000;stroke:#000">22 Feb 00:00</text>
<rect x="390" y="668" width="1" height="3" fill="#000" class="c"/>
<text x="390" y="680" textLength="53.5" lengthAdjust="spacingAndGlyphs" style="fill:#000;stroke:#000">23 Feb 08:00</text>
<rect x="454" y="668" width="1" height="3" fill="#000" class="c"/>
<text x="454" y="680" textLength="53.5" lengthAdjust="spacingAndGlyphs" style="fill:#000;stroke:#000">24 Feb 16:00</text>
<rect x="518" y="668" width="1" height="3" fill="#000" class="c"/>
<text x="518" y="680" textLength="53.5" lengthAdjust="spacingAndGlyphs" style="fill:#000;stroke:#000">27 Feb 23:00</text>
<rect x="582" y="668" width="1" height="3" fill="#000" class="c"/>
<text x="582" y="680" textLength="48.6" lengthAdjust="spacingAndGlyphs" style="fill:#000;stroke:#000">1 Mar 04:00</text>
<rect x="646" y="668" width="1" height="3" fill="#000" class="c"/>
<text x="646" y="680" textLength="48.6" lengthAdjust="spacingAndGlyphs" style="fill:#000;stroke:#000">2 Mar 12:00</text>
<rect x="710" y="668" width="1" height="3" fill="#000" class="c"/>
<text x="710" y="680" textLength="48.6" lengthAdjust="spacingAndGlyphs" style="fill:#000;stroke:#000">3 Mar 20:00</text>
<rect x="774" y="668" width="1" height="3" fill="#000" class="c"/>
<text x="774" y="680" textLength="48.6" lengthAdjust="spacingAndGlyphs" style="fill:#000;stroke:#000">7 Mar 00:00</text>
<rect x="838" y="668" width="1" height="3" fill="#000" class="c"/>
<text x="838" y="680" textLength="48.6" lengthAdjust="spacingAndGlyphs" style="fill:#000;stroke:#000">8 Mar 08:00</text>
<rect x="902" y="668" width="1" height="3" fill="#000" class="c"/>
<text x="902" y="680" textLength="48.6" lengthAdjust="spacingAndGlyphs" style="fill:#000;stroke:#000">9 Mar 16:00</text>
<rect x="966" y="668" width="1" height="3" fill="#000" class="c"/>
<text x="966" y="680" textLength="53.5" lengthAdjust="spacingAndGlyphs" style="fill:#000;stroke:#000">11 Mar 00:00</text>
<rect x="1030" y="668" width="1" height="3" fill="#000" class="c"/>
<text x="1030" y="680" textLength="53.5" lengthAdjust="spacingAndGlyphs" style="fill:#000;stroke:#000">14 Mar 04:00</text>
<rect x="1094" y="668" width="1" height="3" fill="#000" class="c"/>
<text x="1094" y="680" textLength="53.5" lengthAdjust="spacingAndGlyphs" style="fill:#000;stroke:#000">15 Mar 12:00</text>
<rect x="1158" y="668" width="1" height="3" fill="#000" class="c"/>
<text x="1158" y="680" textLength="53.5" lengthAdjust="spacingAndGlyphs" style="fill:#000;stroke:#000">16 Mar 20:00</text>
</svg>
</body></html>
